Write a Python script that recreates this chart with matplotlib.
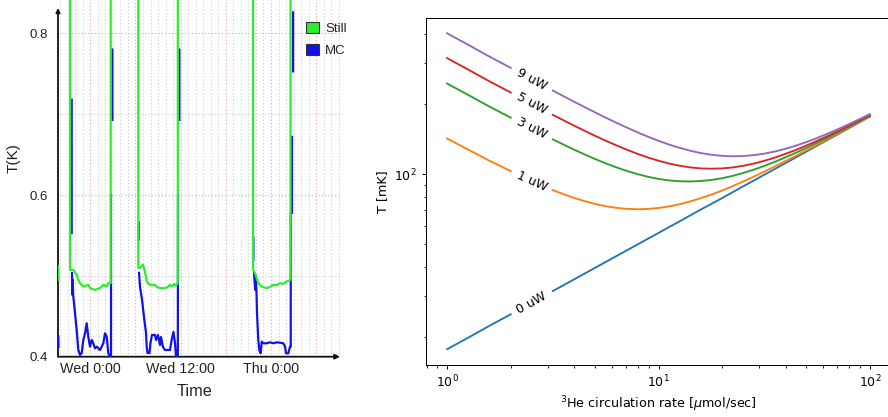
import numpy as np
import matplotlib
matplotlib.use("Agg")
import matplotlib.pyplot as plt
from matplotlib.patches import Patch
from matplotlib.ticker import MultipleLocator, FuncFormatter

nan = np.nan

# ---------------- Left panel data: hours relative to Wed 0:00, temperature in K ----------------
still_time = [-4.25, -4.22, -4.20,
              -2.68, -2.68, -2.26, -1.81, -1.59, -1.37, -0.93, -0.27, -0.04, 0.62, 1.29, 1.73, 2.18, 2.39, 2.71, 2.71,
              6.37, 6.37, 6.60, 7.00, 7.26, 7.53, 7.93, 8.59, 8.86, 9.26, 9.92, 10.32, 10.58, 10.85, 11.12, 11.38, 11.62, 11.62,
              21.61, 21.61, 21.87, 22.31, 22.76, 23.43, 23.86, 24.30, 24.75, 25.19, 25.63, 26.08, 26.59, 26.59, 33.5]
still_temp = [0.512, 0.495, nan,
              1.2, 0.5075, 0.5075, 0.5013, 0.4951, 0.4910, 0.4868, 0.4889, 0.4848, 0.4827, 0.4848, 0.4889, 0.4868, 0.4910, 0.4910, 1.2,
              1.2, 0.510, 0.510, 0.5137, 0.505, 0.4926, 0.4889, 0.4889, 0.4864, 0.4848, 0.4848, 0.4864, 0.4889, 0.4868, 0.4901, 0.4877, 0.4914, 1.2,
              1.2, 0.5075, 0.5034, 0.4910, 0.4868, 0.4848, 0.4864, 0.4889, 0.4883, 0.4910, 0.4901, 0.4930, 0.4951, 1.2, 1.2]

mc_time = [-4.25, -4.22, -4.20,
           -2.47, -2.47, -2.46,
           -2.43, -2.38, -2.34, -2.28, -2.03, -1.81, -1.59, -1.37, -1.14, -0.93, -0.70, -0.48, -0.27, -0.04, 0.19, 0.40,
           0.62, 0.85, 1.29, 1.73, 1.95, 2.18, 2.39, 2.62, 2.75, 2.75, 2.76,
           2.93, 2.93, 2.94,
           6.43, 6.43, 6.44,
           6.47, 6.60, 6.87, 7.13, 7.40, 7.49, 7.60, 7.86, 7.99, 8.19, 8.59, 8.73, 8.99, 9.26, 9.39, 9.65, 9.92, 10.58,
           10.85, 11.05, 11.25, 11.38, 11.62, 11.65, 11.66,
           11.83, 11.83, 11.84,
           21.66, 21.66, 21.67,
           21.74, 21.90, 21.95, 22.06, 22.14, 22.31, 22.44, 22.63, 22.76, 22.98, 23.43, 23.86, 24.30, 24.75, 25.19, 25.63,
           25.86, 25.99, 26.30, 26.52, 26.62, 26.62, 26.63,
           26.78, 26.78, 26.79,
           26.93, 26.93]
mc_temp = [0.425, 0.412, nan,
           0.718, 0.553, nan,
           0.5034, 0.4765, 0.495, 0.4765, 0.4538, 0.4331, 0.4083, 0.4021, 0.4046, 0.4207, 0.4290, 0.4414, 0.4248, 0.4124, 0.4207, 0.4166,
           0.4104, 0.4124, 0.4083, 0.4166, 0.4290, 0.4248, 0.4042, 0.400, 0.400, 0.600, nan,
           0.693, 0.780, nan,
           0.566, 0.545, nan,
           0.5038, 0.4864, 0.4703, 0.4492, 0.4294, 0.4120, 0.4046, 0.4046, 0.4170, 0.4269, 0.4269, 0.4207, 0.4269, 0.4145, 0.4244, 0.4120, 0.4083, 0.4083,
           0.4232, 0.4306, 0.4170, 0.4010, 0.4010, 0.600, nan,
           0.693, 0.780, nan,
           0.547, 0.520, nan,
           0.5034, 0.4827, 0.500, 0.4827, 0.4538, 0.4207, 0.4083, 0.4042, 0.4186, 0.4166, 0.4166, 0.4178, 0.4166, 0.4178, 0.4173, 0.4166,
           0.4124, 0.4042, 0.4042, 0.4124, 0.4124, 0.578, nan,
           0.578, 0.672, nan,
           0.753, 0.826]

time_labels = {0: "Wed 0:00", 12: "Wed 12:00", 24: "Thu 0:00"}
series_names = ["Still", "MC"]

# ---------------- Right panel data ----------------
rate = [1.0, 1.26, 1.58, 2.0, 2.51, 3.16, 3.55, 3.98, 4.47, 5.01, 5.62, 6.31, 7.08, 7.94, 8.91, 10.0,
        11.2, 12.6, 14.1, 15.8, 17.8, 20.0, 22.4, 25.1, 28.2, 31.6, 35.5, 39.8, 44.7, 50.1, 56.2, 63.1,
        70.8, 79.4, 89.1, 100.0]
T_0uW = [17.69, 19.85, 22.27, 24.99, 28.04, 31.46, 33.32, 35.30, 37.39, 39.61, 41.95, 44.44, 47.07, 49.86,
         52.82, 55.95, 59.26, 62.77, 66.49, 70.43, 74.61, 79.03, 83.71, 88.67, 93.92, 99.49, 105.38, 111.63,
         118.24, 125.25, 132.67, 140.53, 148.86, 157.68, 167.02, 176.92]
T_1uW = [142.52, 127.59, 114.52, 103.19, 93.53, 85.53, 82.14, 79.18, 76.65, 74.56, 72.92, 71.73, 71.00, 70.74,
         70.95, 71.62, 72.76, 74.36, 76.40, 78.89, 81.80, 85.13, 88.89, 93.05, 97.63, 102.62, 108.02, 113.86,
         120.12, 126.83, 134.00, 141.65, 149.80, 158.48, 167.69, 177.48]
T_3uW = [245.59, 219.21, 195.84, 175.20, 157.07, 141.30, 134.24, 127.74, 121.78, 116.36, 111.49, 107.17, 103.40,
         100.20, 97.58, 95.55, 94.13, 93.31, 93.11, 93.53, 94.55, 96.18, 98.42, 101.24, 104.64, 108.60, 113.12,
         118.18, 123.79, 129.94, 136.63, 143.87, 151.68, 160.06, 169.03, 178.61]
T_5uW = [315.93, 281.83, 251.55, 224.70, 200.99, 180.15, 170.75, 161.98, 153.86, 146.36, 139.48, 133.21, 127.56,
         122.52, 118.12, 114.37, 111.27, 108.83, 107.08, 106.01, 105.65, 105.98, 107.01, 108.73, 111.14, 114.21,
         117.94, 122.31, 127.31, 132.94, 139.18, 146.03, 153.51, 161.60, 170.33, 179.71]
T_9uW = [404.00, 360.27, 321.37, 286.82, 256.20, 229.14, 216.85, 205.34, 194.59, 184.59, 175.30, 166.71, 158.83,
         151.64, 145.14, 139.36, 134.28, 129.92, 126.31, 123.45, 121.35, 120.04, 119.51, 119.78, 120.84, 122.67,
         125.29, 128.66, 132.77, 137.61, 143.17, 149.44, 156.40, 164.05, 172.41, 181.46]
power_labels = ["0 uW", "1 uW", "3 uW", "5 uW", "9 uW"]
curves = [T_0uW, T_1uW, T_3uW, T_5uW, T_9uW]

# ---------------- Figure ----------------
W, H = 888, 417
fig = plt.figure(figsize=(W / 100, H / 100), dpi=100)


def fx(px):
    return px / W


def fy(py):
    return 1 - py / H


LFONT = ["Liberation Sans", "DejaVu Sans"]
GREEN = "#2eec2e"
BLUE = "#1212e6"

# ---- left panel ----
axL = fig.add_axes([fx(58), fy(356.7), (340 - 58) / W, 356.7 / H])
axL.plot(mc_time, mc_temp, color=BLUE, lw=1.6, zorder=3)
axL.plot(still_time, still_temp, color=GREEN, lw=1.6, zorder=4)
axL.set_xlim(-4.29, 33.16)
axL.set_ylim(0.4, 0.8413)
axL.set_axisbelow(True)
axL.xaxis.set_major_locator(MultipleLocator(6))
axL.xaxis.set_minor_locator(MultipleLocator(1))
axL.yaxis.set_major_locator(MultipleLocator(0.2))
axL.yaxis.set_minor_locator(MultipleLocator(0.1))
axL.xaxis.set_major_formatter(FuncFormatter(lambda v, p: time_labels.get(int(round(v)), "")))
axL.yaxis.set_major_formatter(FuncFormatter(lambda v, p: f"{v:.1f}"))
axL.grid(which="major", color="#f0a0a0", ls=(0, (1, 2)), lw=0.8)
axL.grid(which="minor", color="#cccccc", ls=(0, (1, 2)), lw=0.8)
axL.tick_params(which="both", length=0)
axL.tick_params(axis="y", pad=7, labelsize=9.5, labelcolor="#222222")
axL.tick_params(axis="x", pad=4, labelsize=10.3, labelcolor="#222222")
for lab in axL.get_xticklabels() + axL.get_yticklabels():
    lab.set_family(LFONT)
for s in axL.spines.values():
    s.set_visible(False)
axL.annotate("", xy=(1.0, 0.0), xytext=(0.0, 0.0), xycoords="axes fraction",
             arrowprops=dict(arrowstyle="-|>", color="#111111", lw=1.3, mutation_scale=7,
                             shrinkA=0, shrinkB=0), zorder=2.5, annotation_clip=False)
axL.annotate("", xy=(0.0, (356.7 - 8) / 356.7), xytext=(0.0, 0.0), xycoords="axes fraction",
             arrowprops=dict(arrowstyle="-|>", color="#111111", lw=1.3, mutation_scale=6,
                             shrinkA=0, shrinkB=0), zorder=2.5, annotation_clip=False)
fig.text(fx(14), fy(158), "T(K)", rotation=90, ha="center", va="center",
         fontsize=11, family=LFONT, color="#222222")
fig.text(fx(195), fy(392), "Time", ha="center", va="center",
         fontsize=11.7, family=LFONT, color="#222222")
leg = fig.legend(handles=[Patch(facecolor=GREEN, edgecolor="#333333", lw=0.8),
                          Patch(facecolor=BLUE, edgecolor="#333333", lw=0.8)],
                 labels=series_names, loc="upper left", bbox_to_anchor=(fx(306), fy(22)),
                 frameon=False, handlelength=1.0, handleheight=0.9, handletextpad=0.45,
                 labelspacing=0.65, borderpad=0, borderaxespad=0,
                 prop={"family": LFONT, "size": 9.5})
for t in leg.get_texts():
    t.set_color("#222222")

# ---- right panel ----
axR = fig.add_axes([fx(426), fy(365), (891 - 426) / W, (365 - 17.5) / H])
axR.set_xscale("log")
axR.set_yscale("log")
colors = ["C0", "C1", "C2", "C3", "C4"]
rate_arr = np.array(rate)
left_part = rate_arr <= 2.0
right_part = rate_arr >= 3.0
for vals, c in zip(curves, colors):
    v = np.array(vals)
    axR.plot(rate_arr[left_part], v[left_part], color=c, lw=1.35)
    axR.plot(rate_arr[right_part], v[right_part], color=c, lw=1.35)
axR.autoscale_view()
for vals, lab in zip(curves, power_labels):
    p1 = axR.transData.transform((rate[3], vals[3]))
    p2 = axR.transData.transform((rate[5], vals[5]))
    ang = np.degrees(np.arctan2(p2[1] - p1[1], p2[0] - p1[0]))
    axR.text(rate[4], vals[4], lab, rotation=ang, rotation_mode="anchor",
             ha="center", va="center", fontsize=9, color="black")
axR.set_xlabel(r"$^3$He circulation rate [$\mu$mol/sec]", fontsize=9.2, labelpad=3)
axR.set_ylabel("T [mK]", fontsize=9.2, labelpad=3.6)
axR.tick_params(which="major", length=3.2, width=0.72, pad=3.2, labelsize=9)
axR.tick_params(which="minor", length=1.8, width=0.6)
for s in axR.spines.values():
    s.set_linewidth(0.72)
axR.spines["right"].set_visible(False)

fig.savefig("out.png", dpi=100)
